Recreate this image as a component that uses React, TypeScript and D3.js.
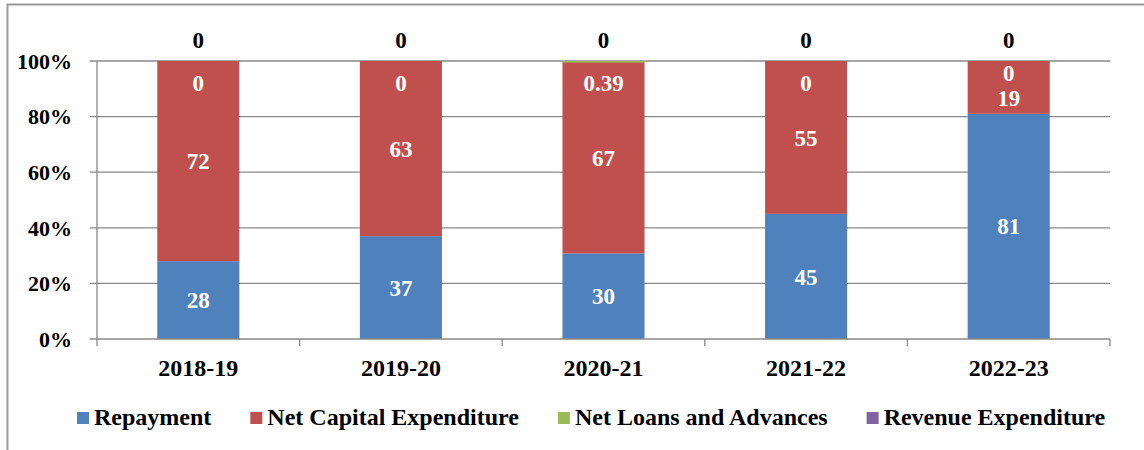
import React, { useEffect, useRef } from "react";
import * as d3 from "d3";

const categories = ["2018-19", "2019-20", "2020-21", "2021-22", "2022-23"];
const repayment = [28, 37, 30, 45, 81];
const netCapital = [72, 63, 67, 55, 19];
const netLoans = [0, 0, 0.39, 0, 0];
const revenueExp = [0, 0, 0, 0, 0];
const seriesNames = ["Repayment", "Net Capital Expenditure", "Net Loans and Advances", "Revenue Expenditure"];
const seriesColors = ["#4F81BD", "#C0504D", "#9BBB59", "#8064A2"];
const yTicks = [0, 0.2, 0.4, 0.6, 0.8, 1];

const W = 1144, H = 450;
const FONT = "Liberation Serif, Times New Roman, serif";

export default function App() {
  const ref = useRef<SVGSVGElement>(null);
  useEffect(() => {
    const svg = d3.select(ref.current);
    svg.selectAll("*").remove();
    const left = 97, right = 1110, top = 61, bottom = 339;

    // chart border (only left and top edges fall inside the picture)
    svg.append("path").attr("d", `M7.5,${H + 5} L7.5,4.5 L${W + 5},4.5`)
      .attr("fill", "none").attr("stroke", "#9a9a9a").attr("stroke-width", 2);

    const x = d3.scaleBand<string>().domain(categories).range([left, right])
      .paddingInner(0.595).paddingOuter(0.2975);
    const y = d3.scaleLinear().domain([0, 1]).range([bottom, top]);

    const g = svg.append("g");
    yTicks.forEach(t => {
      if (t === 0) return;
      g.append("line").attr("x1", left - 7).attr("x2", right).attr("y1", y(t)).attr("y2", y(t))
        .attr("stroke", "#888").attr("stroke-width", 1.3);
    });
    g.append("line").attr("x1", left).attr("x2", left).attr("y1", top).attr("y2", bottom)
      .attr("stroke", "#888").attr("stroke-width", 1.3);
    yTicks.forEach(t => {
      g.append("text").attr("x", 72).attr("y", y(t)).attr("dy", "0.35em").attr("text-anchor", "end")
        .style("font-family", FONT).attr("font-weight", "bold").attr("font-size", 22).attr("fill", "#000")
        .text(d3.format(".0%")(t));
    });

    const rows = categories.map((c, i) => ({
      cat: c,
      vals: [repayment[i], netCapital[i], netLoans[i], revenueExp[i]],
    }));

    rows.forEach(r => {
      const total = d3.sum(r.vals);
      let acc = 0;
      const segs = r.vals.map((v, k) => {
        const y0 = acc / total; acc += v; const y1 = acc / total;
        return { k, v, y0, y1 };
      });
      const bx = x(r.cat)!;
      const bw = x.bandwidth();
      segs.forEach(s => {
        if (s.y1 - s.y0 <= 0) return;
        g.append("rect").attr("x", bx).attr("width", bw)
          .attr("y", y(s.y1)).attr("height", Math.max(y(s.y0) - y(s.y1), 1.5)).attr("fill", seriesColors[s.k]);
      });
      const cx = bx + bw / 2;
      let capY = (y(segs[1].y0) + y(segs[1].y1)) / 2;
      let loanY = y(1) + 22;
      if (capY - loanY < 25) {
        const m = (capY + loanY) / 2;
        loanY = m - 12.5; capY = m + 12.5;
      }
      const label = (yy: number, txt: string, col: string) =>
        g.append("text").attr("x", cx).attr("y", yy).attr("dy", "0.35em").attr("text-anchor", "middle")
          .style("font-family", FONT).attr("font-weight", "bold").attr("font-size", 23).attr("fill", col).text(txt);
      label((y(segs[0].y0) + y(segs[0].y1)) / 2, String(segs[0].v), "#fff");
      label(capY, String(segs[1].v), "#fff");
      label(loanY, String(segs[2].v), "#fff");
      label(y(1) - 21, String(segs[3].v), "#000");
    });

    g.append("line").attr("x1", left - 7).attr("x2", right).attr("y1", bottom).attr("y2", bottom)
      .attr("stroke", "#888").attr("stroke-width", 1.3);
    const step = x.step();
    for (let i = 0; i <= categories.length; i++) {
      const tx = left + i * step;
      g.append("line").attr("x1", tx).attr("x2", tx).attr("y1", bottom).attr("y2", bottom + 7)
        .attr("stroke", "#888").attr("stroke-width", 1.3);
    }
    categories.forEach(c => {
      g.append("text").attr("x", x(c)! + x.bandwidth() / 2).attr("y", 376).attr("text-anchor", "middle")
        .style("font-family", FONT).attr("font-weight", "bold").attr("font-size", 24).attr("fill", "#000").text(c);
    });

    const lg = svg.append("g");
    let lx = 77;
    seriesNames.forEach((n, k) => {
      lg.append("rect").attr("x", lx).attr("y", 412).attr("width", 12).attr("height", 12).attr("fill", seriesColors[k]);
      const t = lg.append("text").attr("x", lx + 17).attr("y", 425)
        .style("font-family", FONT).attr("font-weight", "bold").attr("font-size", 24).attr("fill", "#000").text(n);
      const w = (t.node() as SVGTextElement).getComputedTextLength();
      lx += 17 + w + 39;
    });
  }, []);
  return (
    <svg ref={ref} width={W} height={H}
      style={{ display: "block", position: "absolute", left: 0, top: 0, background: "#fff" }} />
  );
}
